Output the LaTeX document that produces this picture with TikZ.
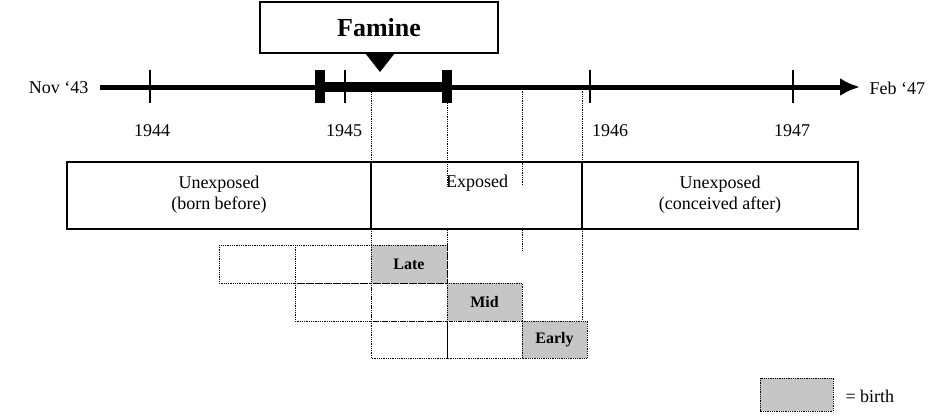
\documentclass[tikz,border=0pt]{standalone}
\usepackage{fontspec}
\setmainfont{Liberation Serif}
\usetikzlibrary{calc,arrows.meta}
\tikzset{
  cell/.style={draw, densely dotted, thick},
  birth/.style={cell, fill=gray!45},
  guide/.style={densely dotted, thick},
  tick/.style={line width=1.4pt},
  capbar/.style={fill=black},
  lab/.style={font=\fontsize{18}{21}\selectfont},
  blab/.style={font=\fontsize{16}{19}\selectfont\bfseries}
}
\begin{document}
\begin{tikzpicture}[x=1pt,y=-1pt]
            \useasboundingbox (0,0) rectangle (936,416);
            % Famine box and marker
            \node[draw, line width=1.2pt, minimum width=238pt, minimum height=51pt, font=\fontsize{26}{30}\selectfont\bfseries] (famine) at (379,27.5) {Famine};
            \fill (365,53) -- (395,53) -- (380,72) -- cycle;

            % Time axis
            \coordinate (start) at (100,87);
            \coordinate (stop) at (860,87);
            \draw[line width=5pt, -{Latex[length=20pt,width=18pt]}] (start) -- (stop);
            \fill (320,82) rectangle (447,92);
            \fill[capbar] (315,70) rectangle (325,103);
            \fill[capbar] (442,70) rectangle (452,103);
            \foreach \x in {150,345,590,793}
              \draw[tick] (\x,70) -- (\x,103);
            \node[lab, anchor=east] (nov) at (92,88) {Nov ‘43};
            \node[lab, anchor=west] (feb) at (866,88) {Feb ‘47};
            \node[lab] (y44) at (152,131) {1944};
            \node[lab] (y45) at (344,131) {1945};
            \node[lab] (y46) at (610,131) {1946};
            \node[lab] (y47) at (792,131) {1947};

            % Dotted guides
            \draw[guide] (371,87) -- (371,358);
            \draw[guide] (447,103) -- (447,185);
            \draw[guide] (447,230) -- (447,358);
            \draw[guide] (522,87) -- (522,185);
            \draw[guide] (522,230) -- (522,250);
            \draw[guide] (582,87) -- (582,325);

            % Exposure box
            \draw[line width=1.2pt] (67,162) rectangle (858,229);
            \draw[line width=1.2pt] (371,162) -- (371,229);
            \draw[line width=1.2pt] (582,162) -- (582,229);
            \node[lab, align=center] (unexp1) at (219,195) {Unexposed\\(born before)};
            \node[lab] (exp) at (477,183) {Exposed};
            \node[lab, align=center] (unexp2) at (720,195) {Unexposed\\(conceived after)};

            % Birth cohorts
            \draw[cell] (219,245) rectangle (295,283);
            \draw[cell] (295,245) rectangle (371,283);
            \draw[birth] (371,245) rectangle (447,283);
            \node[blab] (late) at (409,264) {Late};
            \draw[cell] (295,283) rectangle (371,321);
            \draw[cell] (371,283) rectangle (447,321);
            \draw[birth] (447,283) rectangle (522,321);
            \node[blab] (mid) at (484.5,302) {Mid};
            \draw[cell] (371,321) rectangle (447,358);
            \draw[cell] (447,321) rectangle (522,358);
            \draw[birth] (522,321) rectangle (587,358);
            \node[blab] (early) at (554.5,340) {Early};

            % Legend
            \draw[birth] (760,378) rectangle (833,411);
            \node[lab, anchor=west] (leg) at (842,396) {= birth};
\end{tikzpicture}
\end{document}
